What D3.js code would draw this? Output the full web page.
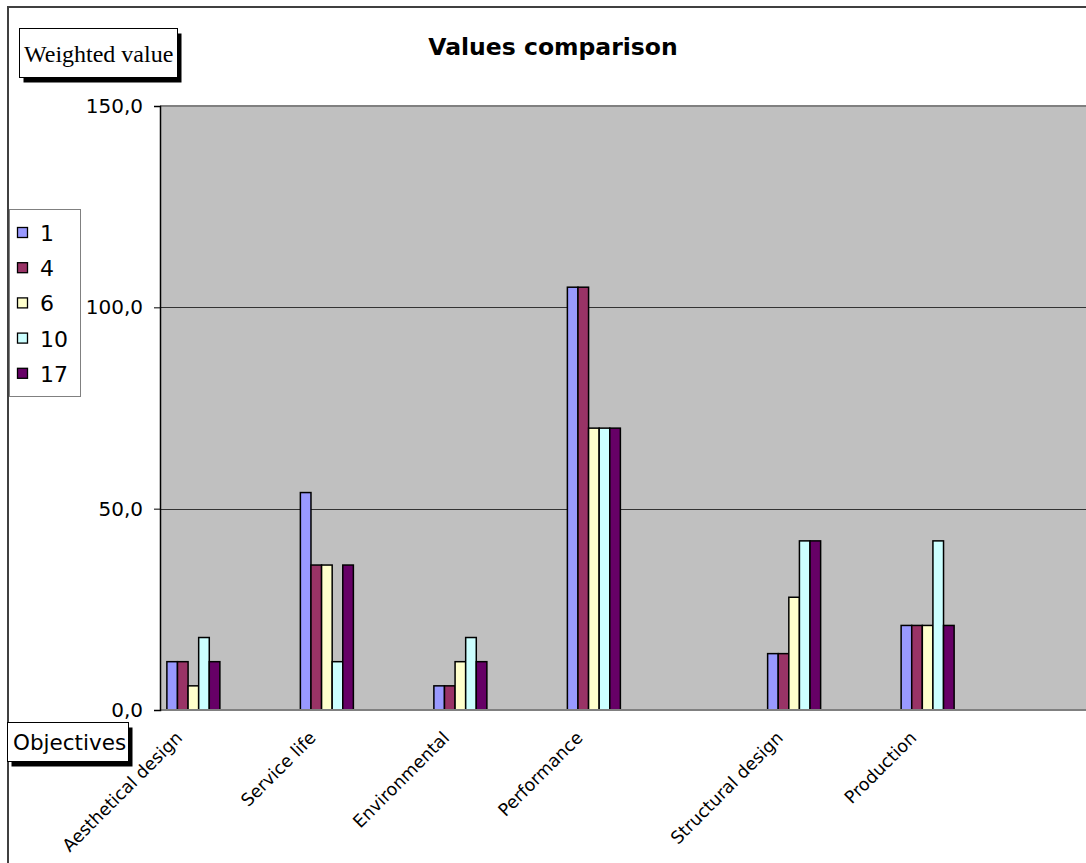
<!DOCTYPE html>
<html>
<head>
<meta charset="utf-8">
<script src="https://cdn.jsdelivr.net/npm/d3@7"></script>
<style>
  html, body { margin: 0; padding: 0; background: #fff; }
  svg { display: block; }
</style>
</head>
<body>
<div id="chart"></div>
<script>
// ---- data ----
const categories = ["Aesthetical design", "", "Service life", "", "Environmental", "", "Performance", "", "", "Structural design", "", "Production", "", ""];
const seriesNames = ["1", "4", "6", "10", "17"];
const s1  = [12, null, 54, null, 6,  null, 105, null, null, 14, null, 21, null, null];
const s4  = [12, null, 36, null, 6,  null, 105, null, null, 14, null, 21, null, null];
const s6  = [6,  null, 36, null, 12, null, 70,  null, null, 28, null, 21, null, null];
const s10 = [18, null, 12, null, 18, null, 70,  null, null, 42, null, 42, null, null];
const s17 = [12, null, 36, null, 12, null, 70,  null, null, 42, null, 21, null, null];
const seriesValues = [s1, s4, s6, s10, s17];
const colors = ["#9999FF", "#993366", "#FFFFCC", "#CCFFFF", "#660066"];
const yTicks = [0, 50, 100, 150];
const titleText = "Values comparison";
const yTitle = "Weighted value";
const xTitle = "Objectives";

// ---- layout ----
const W = 1086, H = 863;
const plot = { left: 160, top: 106, right: 1094.5, bottom: 710 };
const sans = "DejaVu Sans, Verdana, sans-serif";

const svg = d3.select("#chart").append("svg").attr("width", W).attr("height", H);

// chart area
svg.append("rect").attr("x", 8).attr("y", 7).attr("width", 1120).attr("height", 900)
  .attr("fill", "#fff").attr("stroke", "#404040").attr("stroke-width", 2);

const x = d3.scaleBand().domain(d3.range(categories.length))
  .range([plot.left, plot.right]).paddingInner(0.206).paddingOuter(0.103);
const xs = d3.scaleBand().domain(d3.range(seriesNames.length)).range([0, x.bandwidth()]).padding(0);
const y = d3.scaleLinear().domain([0, 150]).range([plot.bottom, plot.top]);

// plot background
svg.append("rect").attr("x", plot.left).attr("y", plot.top)
  .attr("width", plot.right - plot.left).attr("height", plot.bottom - plot.top)
  .attr("fill", "#C0C0C0");
svg.append("line").attr("x1", plot.left).attr("x2", plot.right).attr("y1", plot.top).attr("y2", plot.top)
  .attr("stroke", "#808080").attr("stroke-width", 2);

// gridlines
svg.append("g").selectAll("line").data(yTicks.filter(t => t > 0 && t < 150)).join("line")
  .attr("x1", plot.left).attr("x2", plot.right)
  .attr("y1", d => Math.round(y(d)) + 0.5).attr("y2", d => Math.round(y(d)) + 0.5)
  .attr("stroke", "#333").attr("stroke-width", 1);

// bars
const groups = svg.append("g").selectAll("g").data(seriesValues).join("g")
  .attr("fill", (d, i) => colors[i]);
groups.each(function(vals, si) {
  d3.select(this).selectAll("rect").data(vals.map((v, ci) => ({ v, ci })).filter(d => d.v != null)).join("rect")
    .attr("x", d => x(d.ci) + xs(si))
    .attr("width", xs.bandwidth())
    .attr("y", d => y(d.v))
    .attr("height", d => y(0) - y(d.v))
    .attr("stroke", "#000").attr("stroke-width", 1.5);
});

// x axis line
svg.append("line").attr("x1", plot.left).attr("x2", plot.right).attr("y1", plot.bottom).attr("y2", plot.bottom)
  .attr("stroke", "#808080").attr("stroke-width", 2);

// y axis
const yAxis = d3.axisLeft(y).tickValues(yTicks).tickSize(6).tickPadding(11)
  .tickFormat(d => d.toFixed(1).replace(".", ","));
const ya = svg.append("g").attr("transform", `translate(${plot.left},0)`).call(yAxis);
ya.select(".domain").attr("stroke", "#000").attr("stroke-width", 1.5);
ya.selectAll(".tick line").attr("stroke", "#000");
ya.selectAll("text").attr("font-family", sans).attr("font-size", 20).attr("fill", "#000");

// category labels
svg.append("g").selectAll("text").data(categories.map((c, i) => ({ c, i })).filter(d => d.c)).join("text")
  .attr("transform", d => `translate(${x(d.i) + x.bandwidth() / 2 - 10},${plot.bottom + 29}) rotate(-45)`)
  .attr("text-anchor", "end")
  .attr("font-family", sans).attr("font-size", 17.5)
  .attr("fill", "#000")
  .text(d => d.c);

// title
svg.append("text").attr("x", 553).attr("y", 55).attr("text-anchor", "middle")
  .attr("font-family", sans).attr("font-weight", "bold").attr("font-size", 23.5)
  .text(titleText);

// axis title boxes with shadow
function titleBox(bx, by, bw, bh, text, font, size, tx, ty) {
  const g = svg.append("g");
  g.append("rect").attr("x", bx + 4).attr("y", by + 5).attr("width", bw).attr("height", bh).attr("fill", "#000");
  g.append("rect").attr("x", bx).attr("y", by).attr("width", bw).attr("height", bh)
    .attr("fill", "#fff").attr("stroke", "#000").attr("stroke-width", 1);
  g.append("text").attr("x", tx).attr("y", ty).attr("font-family", font).attr("font-size", size).text(text);
}
titleBox(19.5, 28.5, 158, 49, yTitle, "Liberation Serif, Times New Roman, serif", 24, 24, 62);
titleBox(7.5, 722.5, 121, 39, xTitle, sans, 21.5, 13, 750);

// legend
const lg = svg.append("g");
lg.append("rect").attr("x", 9.5).attr("y", 209.5).attr("width", 71).attr("height", 187)
  .attr("fill", "#fff").attr("stroke", "#808080").attr("stroke-width", 1);
const items = lg.selectAll("g.item").data(seriesNames).join("g").attr("class", "item")
  .attr("transform", (d, i) => `translate(0,${233 + i * 35.2})`);
items.append("rect").attr("x", 17.5).attr("y", -5.5).attr("width", 10).attr("height", 10)
  .attr("fill", (d, i) => colors[i]).attr("stroke", "#000").attr("stroke-width", 1.3);
items.append("text").attr("x", 40).attr("y", 8)
  .attr("font-family", sans).attr("font-size", 22).text(d => d);
</script>
</body>
</html>
